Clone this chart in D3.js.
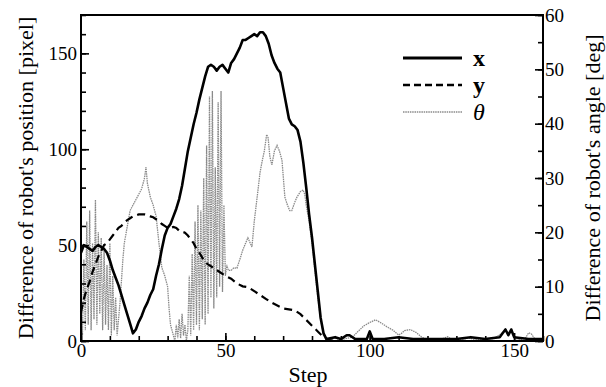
<!DOCTYPE html>
<html>
<head>
<meta charset="utf-8">
<script src="https://cdn.jsdelivr.net/npm/d3@7"></script>
<style>
  body { margin: 0; background: #fff; }
  svg { display: block; }
</style>
</head>
<body>
<svg id="chart" width="606" height="387" font-family="Liberation Serif"></svg>
<script>
const FONT = '"Liberation Serif"';

// x position difference [pixel] (left axis)
const xSteps = [0,1,2,3,4,5,6,7,8,9,10,11,12,13,14,15,16,17,18,19,20,21,22,23,24,25,26,27,28,29,30,31,32,33,34,35,36,37,38,39,40,41,42,43,44,45,46,47,48,49,50,51,52,53,54,55,56,57,58,59,60,61,62,63,64,65,66,67,68,69,70,71,72,73,74,75,76,77,78,79,80,81,82,83,84,85,88,90,92,93,95,99,100,101,105,110,115,120,125,130,135,140,145,146,147,148,149,150,155,160];
const xVals  = [46,50,49,48,47,49,50,49,48,46,42,37,33,29,24,19,14,9,4,6,10,13,17,20,24,27,34,40,48,55,59,61,65,69,74,81,90,99,106,113,119,126,132,138,143,144,143,141,143,144,142,140,145,147,150,153,157,157,158,159,160,159,161,161,159,155,149,145,142,140,132,124,116,113,112,110,104,93,80,66,54,40,26,12,4,1,2,1,3,3,1,1,5,1,1,2,1,1,1,1,2,1,2,4,6,3,6,2,1,1];

// y position difference [pixel] (left axis)
const ySteps = [0,1,2,3,4,5,6,7,8,9,10,11,12,13,14,15,16,17,18,19,20,21,22,23,24,25,26,27,28,29,30,31,32,33,34,35,36,37,38,39,40,41,42,43,44,45,46,47,48,49,50,52,54,56,58,60,62,64,66,68,70,72,74,76,78,80,82,84,86,88,160];
const yVals  = [15,22,27,31,36,40,44,47,50,51,53,55,57,59,60,62,63,64,65,65.5,66,66,66,65.5,65,64.5,63.5,62.5,61,60,59,59,59.5,59,57.5,57,56.5,55,53,51,48,46,43.5,41,40,39,38,37,36,35,34,32.5,30,28.5,28,26,24,22,20,18.5,17,16.5,16,14,11,8,5,2,0.5,0,0];

// angle difference [deg] (right axis)
const tSteps = [0,0.5,1,1.5,2,2.5,3,3.5,4,4.5,5,5.5,6,6.5,7,7.5,8,8.5,9,9.5,10,10.5,11,11.5,12,12.5,13,13.5,14,14.5,15,16,17,18,19,20,21,22,22.5,23,24,25,26,27,28,29,30,30.5,31,32,32.5,33,33.5,34,34.5,35,35.5,36,36.5,37,37.5,38,38.5,39,39.5,40,40.5,41,41.5,42,42.5,43,43.5,44,44.5,45,45.5,46,46.5,47,47.5,48,48.5,49,49.5,50,50.5,51,52,53,54,55,56,57,57.8,59.2,60,61.3,62,62.7,63.5,64.3,64.8,65.4,66.1,67,67.9,68.7,69.6,70.6,71.5,72.3,73,74,74.8,76,76.9,77.5,78,79,80,81,82,83,84,85,86,88,90,92,94,96,98,100,102,104,106,108,110,111,112,114,116,118,120,124,127,128,132,134,136,140,143,146,147,148,149,150,152,154,155,156,157,158,160];
const tVals  = [8,1,15,2,22,3,24,2,18,4,26,3,20,5,19,2,17,3,14,2,18,1,12,2,8,1,4,7,11,15,18,21,24,25,26,27,28,30,32,29,26.5,25,23,18,13.5,12,10,6,3,1,0,3,0.5,4,0.5,5,1,3,0,2,12,1,16,2,22,3,25,2,24,4,30,3,36,5,45,8,46,6,32,8,44,10,46,9,25,12,14,13,13,13.5,13.4,15,16.7,18,19,17.3,22,27.8,31,33,35,38,37.4,34,32.4,35,36,35,33.3,26.5,25,24,24,25.5,26.5,27.5,27.8,27,25,22,18,13,8,4,1,0.5,0.3,0.5,0.2,0.5,0.7,1.8,2.8,3.4,3.9,3.3,2.6,2,1.1,1.4,1.9,2.1,1.6,0.7,0.3,0.2,0.8,0.4,0.2,0.6,0.3,0.2,0.5,1.5,2.2,1.3,2.3,0.6,0.2,0.6,1.5,1.3,0.5,0.2,0.2];

const xTicks = [0, 50, 100, 150];
const leftTicks = [0, 50, 100, 150];
const rightTicks = [0, 10, 20, 30, 40, 50, 60];

const plot = { left: 81, right: 543, top: 15, bottom: 341 };
const svg = d3.select('#chart');

const xScale = d3.scaleLinear().domain([0, 160]).range([plot.left, plot.right]);
const yLeft = d3.scaleLinear().domain([0, 170]).range([plot.bottom, plot.top]);
const yRight = d3.scaleLinear().domain([0, 60]).range([plot.bottom, plot.top]);

// data lines
const lineLeft = d3.line().x(d => xScale(d[0])).y(d => yLeft(d[1]));
const lineRight = d3.line().x(d => xScale(d[0])).y(d => yRight(d[1]));

svg.append('path')
   .datum(d3.zip(tSteps, tVals))
   .attr('d', lineRight)
   .attr('fill', 'none')
   .attr('stroke', '#8a8a8a')
   .attr('stroke-width', 1.3)
   .attr('stroke-dasharray', '1.5,0.8');

svg.append('path')
   .datum(d3.zip(ySteps, yVals))
   .attr('d', lineLeft)
   .attr('fill', 'none')
   .attr('stroke', '#000')
   .attr('stroke-width', 2.2)
   .attr('stroke-dasharray', '8,5');

svg.append('path')
   .datum(d3.zip(xSteps, xVals))
   .attr('d', lineLeft)
   .attr('fill', 'none')
   .attr('stroke', '#000')
   .attr('stroke-width', 2.6)
   .attr('stroke-linejoin', 'round');

// axes: minor ticks first, then major with labels
function styleAxis(g) {
  g.attr('font-family', 'Liberation Serif').attr('font-size', 19);
  g.select('.domain').remove();
  g.selectAll('line').attr('stroke', '#000').attr('stroke-width', 1.6);
  g.selectAll('text').style('font-family', FONT).attr('fill', '#000');
}

svg.append('g')
   .attr('transform', `translate(0,${plot.bottom})`)
   .call(d3.axisBottom(xScale).tickValues(d3.range(0, 161, 10)).tickSize(-5).tickFormat(''))
   .call(styleAxis);
svg.append('g')
   .attr('transform', `translate(0,${plot.bottom})`)
   .call(d3.axisBottom(xScale).tickValues(xTicks).tickSize(-8).tickPadding(2))
   .call(styleAxis);

svg.append('g')
   .attr('transform', `translate(${plot.left},0)`)
   .call(d3.axisLeft(yLeft).tickValues(d3.range(0, 171, 10)).tickSize(-5).tickFormat(''))
   .call(styleAxis);
svg.append('g')
   .attr('transform', `translate(${plot.left},0)`)
   .call(d3.axisLeft(yLeft).tickValues(leftTicks).tickSize(-8).tickPadding(4))
   .call(styleAxis);

svg.append('g')
   .attr('transform', `translate(${plot.right},0)`)
   .call(d3.axisRight(yRight).tickValues(d3.range(0, 61, 5)).tickSize(-5).tickFormat(''))
   .call(styleAxis);
svg.append('g')
   .attr('transform', `translate(${plot.right},0)`)
   .call(d3.axisRight(yRight).tickValues(rightTicks).tickSize(-8).tickPadding(2))
   .call(styleAxis);

// frame
svg.append('rect')
   .attr('x', plot.left).attr('y', plot.top)
   .attr('width', plot.right - plot.left).attr('height', plot.bottom - plot.top)
   .attr('fill', 'none').attr('stroke', '#000').attr('stroke-width', 2);

// axis titles
svg.append('text')
   .attr('transform', `translate(33,${(plot.top + plot.bottom) / 2})rotate(-90)`)
   .attr('text-anchor', 'middle')
   .style('font-family', FONT)
   .style('font-size', '22px')
   .text("Difference of robot's position [pixel]");

svg.append('text')
   .attr('transform', `translate(600,${(plot.top + plot.bottom) / 2})rotate(-90)`)
   .attr('text-anchor', 'middle')
   .style('font-family', FONT)
   .style('font-size', '22px')
   .text("Difference of robot's angle [deg]");

svg.append('text')
   .attr('x', (plot.left + plot.right) / 2 - 4)
   .attr('y', 382)
   .attr('text-anchor', 'middle')
   .style('font-family', FONT)
   .style('font-size', '22px')
   .text('Step');

// legend
const legend = svg.append('g').attr('class', 'legend');
const legendItems = [
  { label: 'x', dash: null, width: 2.8, color: '#000', weight: 'bold', style: 'normal', y: 58 },
  { label: 'y', dash: '7,4', width: 2.4, color: '#000', weight: 'bold', style: 'normal', y: 85 },
  { label: '\u03b8', dash: '1.5,0.8', width: 1.5, color: '#8a8a8a', weight: 'normal', style: 'italic', y: 112 }
];
legendItems.forEach(it => {
  legend.append('line')
        .attr('x1', 403).attr('x2', 462)
        .attr('y1', it.y).attr('y2', it.y)
        .attr('stroke', it.color)
        .attr('stroke-width', it.width)
        .attr('stroke-dasharray', it.dash);
  legend.append('text')
        .attr('x', 473).attr('y', it.y + 8)
        .style('font-family', FONT)
        .style('font-size', '24px')
        .style('font-weight', it.weight)
        .style('font-style', it.style)
        .text(it.label);
});
</script>
</body>
</html>
